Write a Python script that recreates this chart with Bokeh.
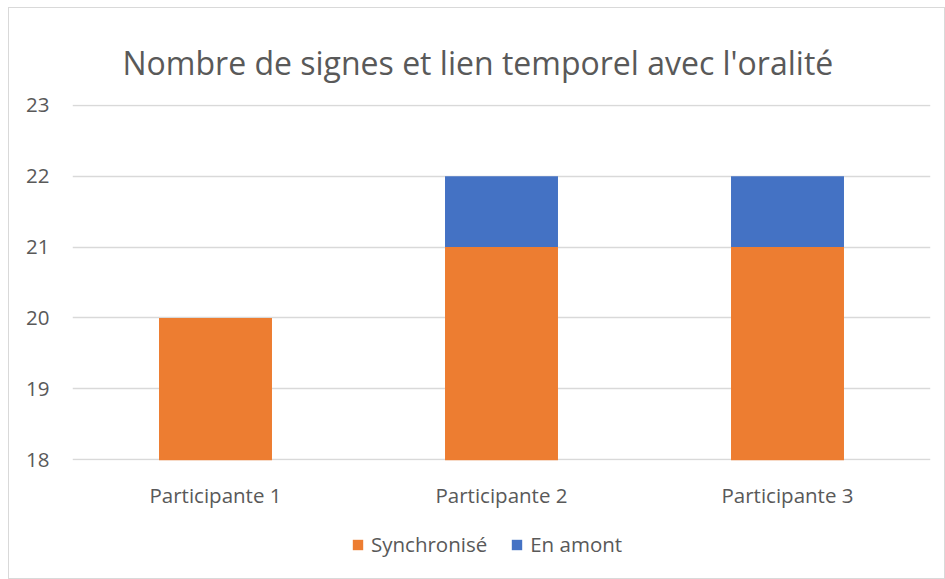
from bokeh.plotting import figure
from bokeh.layouts import column
from bokeh.models import Title, Legend, LegendItem, FixedTicker, Range1d, FactorRange
from bokeh.embed import file_html
from bokeh.resources import INLINE

participants = ["Participante 1", "Participante 2", "Participante 3"]
synchronise = [20, 21, 21]
en_amont = [0, 1, 1]
series = ["Synchronisé", "En amont"]
colors = ["#ED7D31", "#4472C4"]
y_ticks = [18, 19, 20, 21, 22, 23]

FONT = "Open Sans"
GRAY = "#595959"

data = {"participants": participants, "Synchronisé": synchronise, "En amont": en_amont}

p = figure(x_range=participants, y_range=Range1d(17.99, 23.01), width=935, height=512,
           output_backend="svg", toolbar_location=None,
           min_border_left=63, min_border_right=14, min_border_top=96, min_border_bottom=60)

rs = p.vbar_stack(series, x="participants", width=0.395, color=colors, source=data,
                  line_color=None)

t = Title(text="Nombre de signes et lien temporel avec l'oralité", align="left", offset=50,
          text_font=FONT, text_font_size="32px", text_font_style="normal",
          text_color=GRAY, standoff=42)
p.add_layout(t, "above")

p.outline_line_color = None
p.xgrid.grid_line_color = None
p.ygrid.grid_line_color = "#D9D9D9"
p.ygrid.grid_line_width = 1.5
p.yaxis.ticker = FixedTicker(ticks=y_ticks)

for ax in (p.xaxis[0], p.yaxis[0]):
    ax.axis_line_color = None
    ax.major_tick_line_color = None
    ax.minor_tick_line_color = None
    ax.major_label_text_font = FONT
    ax.major_label_text_font_size = "20.5px"
    ax.major_label_text_color = GRAY
p.xaxis.major_label_standoff = 14
p.yaxis.major_label_standoff = 17

# legend strip below the chart (same series, drawn out of view so only the legend shows)
leg = figure(x_range=FactorRange(*participants), y_range=Range1d(100, 101), width=935, height=58,
             output_backend="svg", toolbar_location=None,
             min_border_left=0, min_border_right=0, min_border_top=0, min_border_bottom=0)
leg.axis.visible = False
leg.grid.visible = False
leg.outline_line_color = None
lrs = leg.vbar_stack(series, x="participants", width=0.395, color=colors, source=data,
                     line_color=None)
legend = Legend(items=[LegendItem(label=s, renderers=[r]) for s, r in zip(series, lrs)],
                orientation="horizontal", location=(279, 20),
                label_text_font=FONT, label_text_font_size="20.5px", label_text_color=GRAY,
                glyph_width=13, glyph_height=13, spacing=23, label_standoff=7,
                border_line_color=None, background_fill_alpha=0, margin=0, padding=0)
leg.add_layout(legend, "center")

layout = column(p, leg, spacing=0,
                styles={"border": "1px solid #D9D9D9", "margin-left": "8px", "margin-top": "7px"})

open("out.html", "w").write(file_html(layout, INLINE))
